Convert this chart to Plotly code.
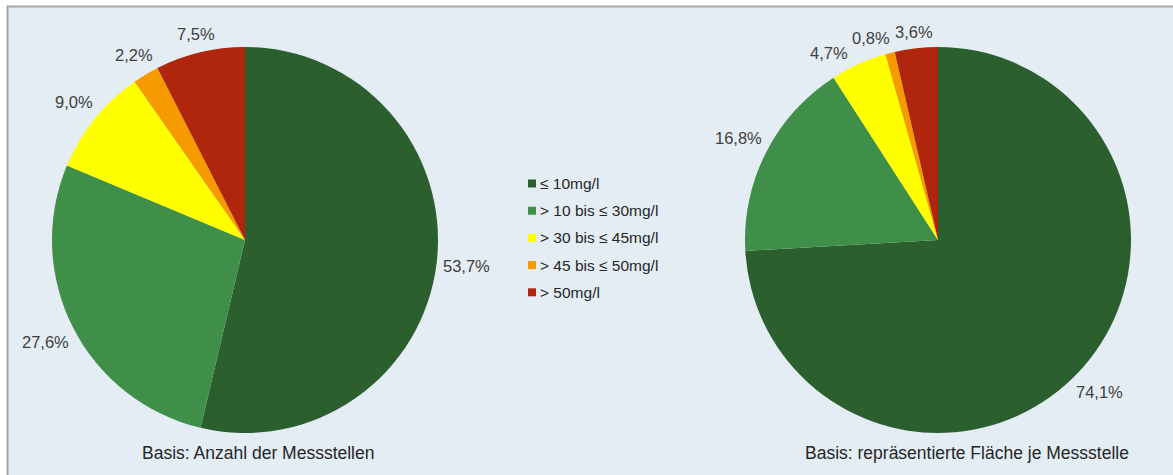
import math
import plotly.graph_objects as go

# Nitrate classes and shares (%)
klassen = ["≤ 10mg/l", "> 10 bis ≤ 30mg/l", "> 30 bis ≤ 45mg/l", "> 45 bis ≤ 50mg/l", "> 50mg/l"]
anteil_messstellen = [53.7, 27.6, 9.0, 2.2, 7.5]
anteil_flaeche = [74.1, 16.8, 4.7, 0.8, 3.6]
farben = ["#2c5f2e", "#3f8f49", "#ffff00", "#f59b00", "#b0260c"]
titel_links = "Basis: Anzahl der Messstellen"
titel_rechts = "Basis: repräsentierte Fläche je Messstelle"

W, H = 1173, 475
BG = "#e4edf4"
FONT = "Liberation Sans, Arial, sans-serif"
LABEL_SIZE = 16.5
LEGEND_SIZE = 15.5
CAPTION_SIZE = 17.5
R = 193          # pie radius in px
CY = 240         # pie centre (px from top)
PIES = [(anteil_messstellen, 245, titel_links, 258),
        (anteil_flaeche, 938, titel_rechts, 967)]


def fmt(v):
    return f"{v:.1f}".replace(".", ",") + "%"


def px(x):
    return x / W


def py(y):
    return 1 - y / H


def text_width(s, size):
    widths = {",": 0.278, "%": 0.889}
    return sum(widths.get(c, 0.556) for c in s) * size


def label_positions(werte, cx):
    """Outside label centres, placed radially just beyond the rim;
    labels that would collide are rotated counter-clockwise."""
    total = sum(werte)
    cum = 0
    mids = []
    for v in werte:
        mids.append(360 * (cum + v / 2) / total)
        cum += v
    placed = {}
    boxes = []
    for i in reversed(range(len(werte))):
        txt = fmt(werte[i])
        w, h = text_width(txt, LABEL_SIZE), LABEL_SIZE + 1
        ang = mids[i]
        while True:
            a = math.radians(ang)
            s, c = math.sin(a), math.cos(a)
            d = R + 6 + (w / 2) * abs(s) + (h / 2) * abs(c)
            x, y = cx + d * s, CY - d * c
            box = (x - w / 2 - 2, x + w / 2 + 2, y - h / 2, y + h / 2)
            clash = any(not (box[1] < b[0] or box[0] > b[1] or box[3] < b[2] or box[2] > b[3])
                        for b in boxes)
            if not clash:
                break
            ang -= 1
        boxes.append(box)
        placed[i] = (x, y, txt)
    return [placed[i] for i in range(len(werte))]


fig = go.Figure()
annotations = []
for werte, cx, titel, tx in PIES:
    fig.add_trace(go.Pie(
        labels=klassen,
        values=werte,
        textinfo="none",
        hovertemplate="%{label}: %{value:.1f}%<extra></extra>",
        marker=dict(colors=farben, line=dict(width=0)),
        sort=False,
        direction="clockwise",
        rotation=0,
        showlegend=False,
        domain=dict(x=[px(cx - R), px(cx + R)], y=[py(CY + R), py(CY - R)]),
    ))
    for x, y, txt in label_positions(werte, cx):
        annotations.append(dict(
            text=txt, x=px(x), y=py(y), xref="paper", yref="paper",
            xanchor="center", yanchor="middle", showarrow=False,
            font=dict(family=FONT, size=LABEL_SIZE, color="#404040"),
        ))
    annotations.append(dict(
        text=titel, x=px(tx), y=py(453), xref="paper", yref="paper",
        xanchor="center", yanchor="middle", showarrow=False,
        font=dict(family=FONT, size=CAPTION_SIZE, color="#262626"),
    ))

# Legend: colour keys with class labels
shapes = [dict(
    type="rect", xref="paper", yref="paper",
    x0=px(7.5), x1=1.01, y0=-0.01, y1=py(6.5),
    fillcolor=BG, line=dict(color="#a6a6a6", width=2), layer="below",
)]
LEG_X, LEG_Y0, LEG_DY = 528, 183.5, 27.2
for k, (name, col) in enumerate(zip(klassen, farben)):
    yc = LEG_Y0 + k * LEG_DY
    shapes.append(dict(
        type="rect", xref="paper", yref="paper",
        x0=px(LEG_X), x1=px(LEG_X + 8), y0=py(yc + 4), y1=py(yc - 4),
        fillcolor=col, line=dict(width=0),
    ))
    annotations.append(dict(
        text=name, x=px(LEG_X + 10), y=py(yc), xref="paper", yref="paper",
        xanchor="left", yanchor="middle", showarrow=False,
        font=dict(family=FONT, size=LEGEND_SIZE, color="#262626"),
    ))

fig.update_layout(
    width=W, height=H,
    margin=dict(l=0, r=0, t=0, b=0),
    paper_bgcolor="white",
    font=dict(family=FONT, size=LABEL_SIZE, color="#262626"),
    shapes=shapes,
    annotations=annotations,
)

fig.write_html("out.html")
